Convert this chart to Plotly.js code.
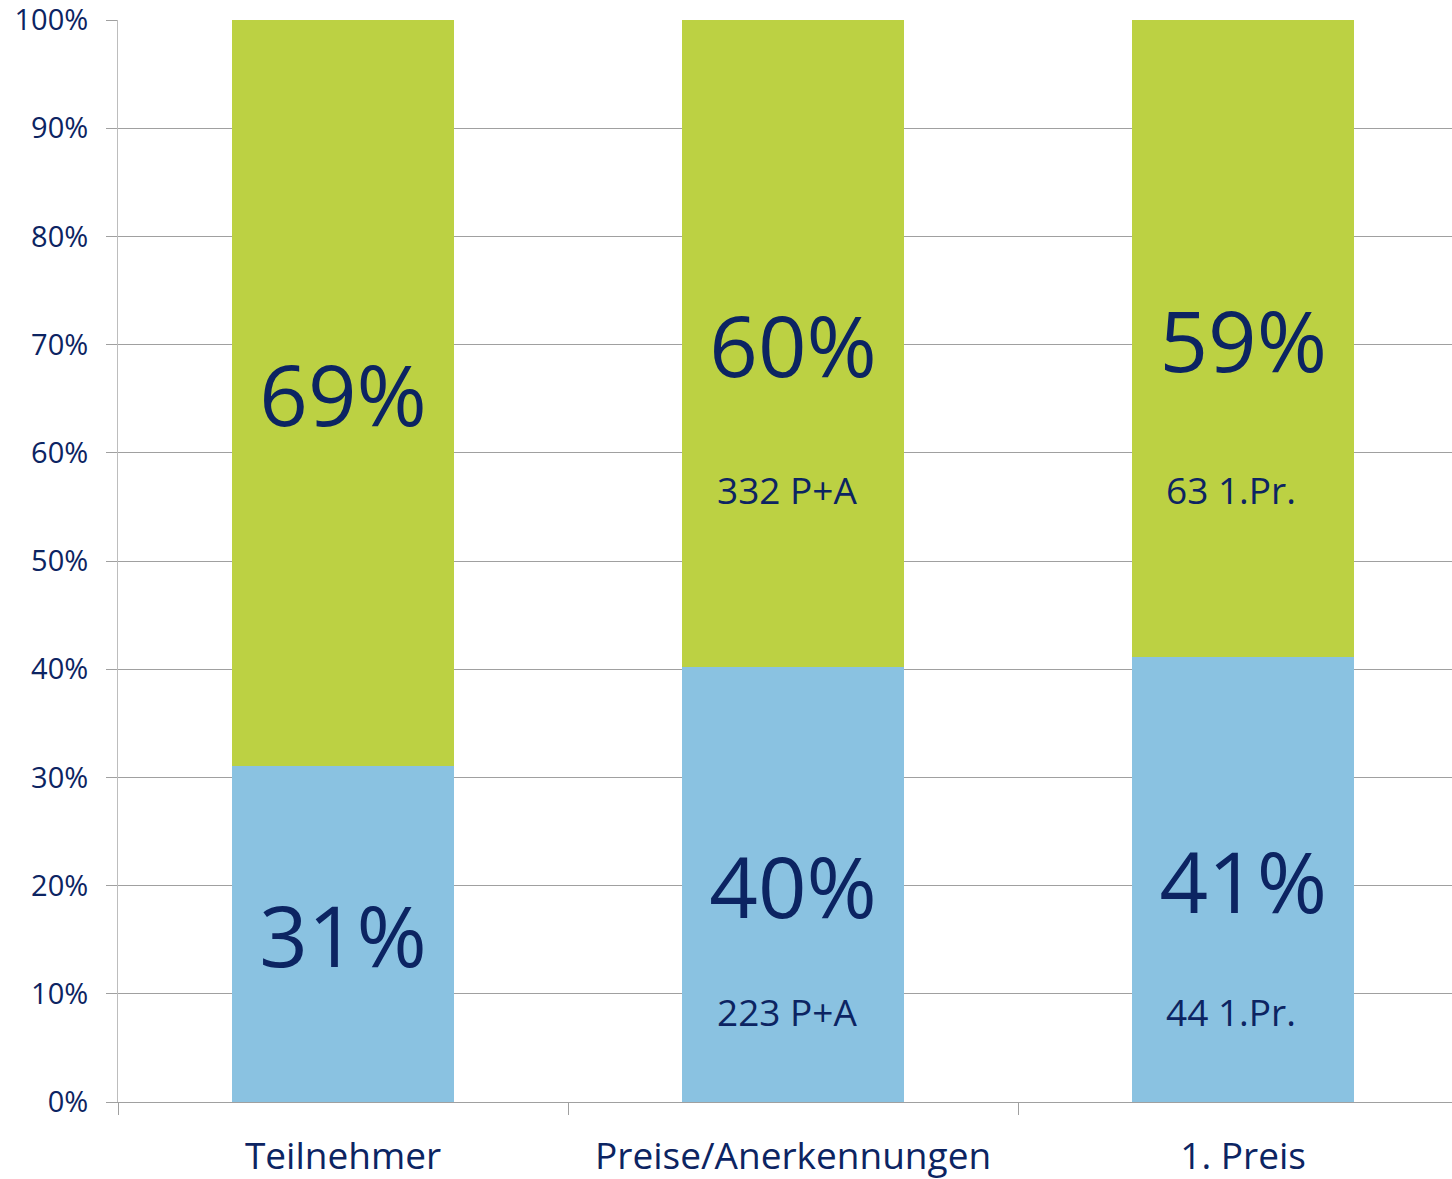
<!DOCTYPE html>
<html>
<head>
<meta charset="utf-8">
<script src="https://cdn.plot.ly/plotly-3.0.1.min.js"></script>
<style>
  html, body { margin: 0; padding: 0; background: #fff; }
  #chart { width: 1452px; height: 1179px; }
</style>
</head>
<body>
<div id="chart"></div>
<script>
// categories and shares (percent of each column)
var categories = ["Teilnehmer", "Preise/Anerkennungen", "1. Preis"];
var shareBlue = [31.1, 40.2, 41.1];
var shareGreen = [68.9, 59.8, 58.9];
var labelBlue = ["31%", "40%", "41%"];
var labelGreen = ["69%", "60%", "59%"];
// absolute counts shown under the percentages
var countBlue = [null, 223, 44];
var countGreen = [null, 332, 63];
var countUnit = ["", "P+A", "1.Pr."];
var yTicks = [0, 10, 20, 30, 40, 50, 60, 70, 80, 90, 100];

var navy = "#0c2462";
var font = "Open Sans, DejaVu Sans, sans-serif";

var big = {family: font, size: 85, color: navy};
var small = {family: font, size: 37, color: navy};
var shiftX = [0, -6, -12];

var data = [
  {
    type: "bar", x: categories, y: shareBlue, text: labelBlue,
    textposition: "inside", insidetextanchor: "middle", constraintext: "none",
    textfont: big, marker: {color: "#8ac2e1"}, hoverinfo: "skip"
  },
  {
    type: "bar", x: categories, y: shareGreen, text: labelGreen,
    textposition: "inside", insidetextanchor: "middle", constraintext: "none",
    textfont: big, marker: {color: "#bcd143"}, hoverinfo: "skip"
  }
];

// small count labels inside the segments
var annotations = [];
categories.forEach(function (c, i) {
  if (countGreen[i] != null) {
    annotations.push({
      x: c, y: 56.6, xref: "x", yref: "y", showarrow: false, xshift: shiftX[i],
      text: countGreen[i] + " " + countUnit[i], font: small
    });
  }
  if (countBlue[i] != null) {
    annotations.push({
      x: c, y: 8.4, xref: "x", yref: "y", showarrow: false, xshift: shiftX[i],
      text: countBlue[i] + " " + countUnit[i], font: small
    });
  }
});

var layout = {
  width: 1452, height: 1179,
  margin: {l: 118, r: 0, t: 20, b: 77},
  barmode: "stack",
  bargap: 0.507,
  showlegend: false,
  paper_bgcolor: "#fff", plot_bgcolor: "#fff",
  font: {family: font, color: navy},
  xaxis: {
    range: [-0.5, 2.464],
    tickson: "boundaries", ticks: "outside", ticklen: 12, tickcolor: "#a0a0a0",
    showgrid: false, showline: true, linecolor: "#a0a0a0", linewidth: 1,
    tickfont: {family: font, size: 37, color: navy},
    ticklabelstandoff: 22,
    zeroline: false
  },
  yaxis: {
    range: [0, 100],
    tickvals: yTicks, ticktext: yTicks.map(function (v) { return v + "%"; }),
    ticks: "outside", ticklen: 11, tickcolor: "#a0a0a0",
    showgrid: true, gridcolor: "#a0a0a0", gridwidth: 1,
    showline: true, linecolor: "#bdbdbd", linewidth: 1,
    zeroline: false,
    ticklabelstandoff: 12,
    ticklabeloverflow: "allow",
    tickfont: {family: font, size: 29, color: navy}
  },
  annotations: annotations
};

Plotly.newPlot("chart", data, layout, {displayModeBar: false, staticPlot: true});
</script>
</body>
</html>
